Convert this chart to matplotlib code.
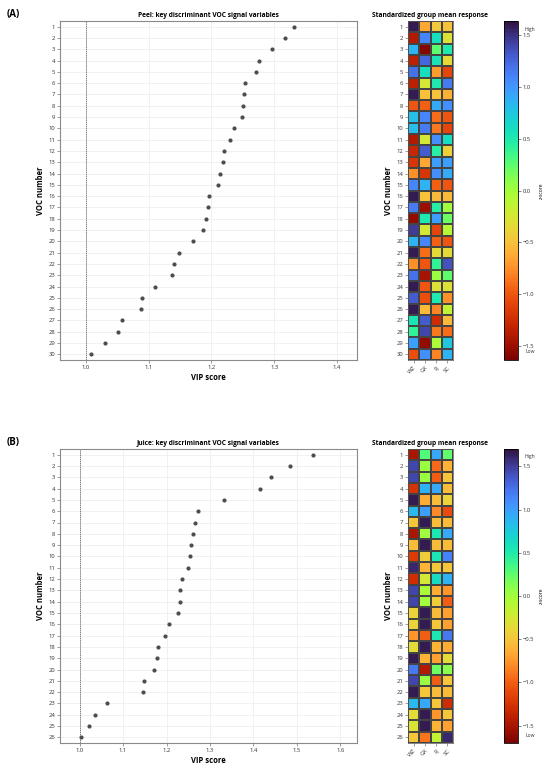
import numpy as np
import matplotlib
matplotlib.use("Agg")
import matplotlib.pyplot as plt

plt.rcParams['font.family'] = ['Open Sans', 'DejaVu Sans']

groups = ["WZ", "GX", "FJ", "SC"]

# peel panel
peel_vip = [1.331, 1.317, 1.297, 1.275, 1.271, 1.254, 1.252, 1.250, 1.249, 1.236,
            1.230, 1.220, 1.218, 1.214, 1.210, 1.196, 1.195, 1.191, 1.186, 1.170,
            1.149, 1.141, 1.137, 1.110, 1.090, 1.088, 1.058, 1.051, 1.030, 1.008]
peel_z = [
    [1.60, -0.65, -0.45, -0.50],
    [-1.40, 1.10, 0.60, -0.30],
    [0.85, -1.60, 0.25, 0.50],
    [-1.35, 1.25, 0.55, -0.35],
    [1.20, 0.60, -0.70, -1.10],
    [-1.35, -0.25, 0.50, 1.15],
    [1.60, -0.50, -0.50, -0.60],
    [-1.00, -0.95, 0.90, 1.05],
    [0.80, 1.10, -0.90, -1.00],
    [0.80, 1.15, -0.85, -1.10],
    [-1.40, -0.25, 1.05, 0.60],
    [-1.30, 1.30, 0.45, -0.40],
    [-1.20, -0.65, 0.95, 0.95],
    [-0.75, -1.20, 1.05, 0.90],
    [1.10, 0.85, -0.95, -1.00],
    [1.60, -0.50, -0.55, -0.55],
    [1.15, -1.50, 0.45, 0.00],
    [-1.55, 0.50, 0.95, 0.20],
    [1.45, -0.25, -1.10, -0.10],
    [0.85, 1.10, -0.95, -1.00],
    [1.60, -0.90, -0.35, -0.35],
    [-0.75, -1.00, 0.40, 1.35],
    [1.20, -1.45, 0.05, 0.25],
    [1.60, -1.00, -0.30, -0.30],
    [1.30, -1.05, 0.50, -0.75],
    [1.60, -0.55, -0.80, -0.15],
    [0.55, 1.30, -1.25, -0.55],
    [0.40, 1.40, -0.85, -0.90],
    [0.95, -1.55, -0.05, 0.75],
    [-1.05, 1.05, -0.80, 0.85],
]

# juice panel
juice_vip = [1.538, 1.483, 1.441, 1.416, 1.333, 1.272, 1.266, 1.262, 1.256, 1.255,
             1.250, 1.236, 1.232, 1.230, 1.227, 1.206, 1.197, 1.180, 1.177, 1.171,
             1.149, 1.145, 1.064, 1.035, 1.021, 1.004]
juice_z = [
    [-1.50, 0.30, 0.95, 0.25],
    [1.45, 0.05, -0.95, -0.60],
    [1.45, 0.05, -1.00, -0.50],
    [-1.25, 0.90, 0.95, -0.55],
    [1.65, -0.65, -0.55, -0.40],
    [0.85, 1.00, -0.80, -1.10],
    [-0.50, 1.65, -0.55, -0.55],
    [-1.50, 0.00, 0.55, 0.95],
    [-0.55, 1.65, -0.55, -0.55],
    [-1.20, -0.45, 0.55, 1.15],
    [1.60, -0.60, -0.50, -0.50],
    [-1.30, -0.25, 0.65, 0.90],
    [1.45, -0.05, -0.65, -0.75],
    [1.45, 0.00, -0.45, -1.00],
    [-0.40, 1.65, -0.55, -0.70],
    [-0.40, 1.65, -0.50, -0.70],
    [-0.75, -1.00, 0.55, 1.20],
    [-0.35, 1.65, -0.60, -0.65],
    [1.65, -0.60, -0.70, -0.35],
    [1.20, -1.45, 0.20, 0.10],
    [1.45, 0.05, -1.00, -0.50],
    [1.65, -0.50, -0.55, -0.55],
    [0.85, 0.95, -0.50, -1.30],
    [-0.35, 1.65, -0.75, -0.50],
    [-0.30, 1.65, -0.60, -0.70],
    [-0.50, -0.90, -0.15, 1.60],
]

W, H = 550, 769
fig = plt.figure(figsize=(W / 100, H / 100), dpi=100)


def rect(l, t, r, b):
    return [l / W, 1 - b / H, (r - l) / W, (b - t) / H]


fs = 4.2
spine_col = '#8a8a8a'


def vip_panel(top, bottom, vip, xlim, xticks, title, tag, z, zlim):
    n = len(vip)
    ax = fig.add_axes(rect(60, top, 356.5, bottom))
    ax.scatter(vip, np.arange(1, n + 1), s=9, color='#4d4d4d', zorder=3, linewidths=0)
    ax.axvline(1.0, color='#555555', ls='--', lw=0.5, dashes=(2, 1), zorder=2)
    ax.set_xlim(*xlim)
    ax.set_ylim(n + 0.5, 0.5)
    ax.set_yticks(np.arange(1, n + 1))
    ax.set_xticks(xticks)
    ax.set_xticklabels([f"{v:.1f}" for v in xticks])
    ax.grid(True, color='#ececec', lw=0.5)
    ax.set_axisbelow(True)
    ax.tick_params(labelsize=fs, length=2, width=0.5, color='#777777',
                   labelcolor='#333333', pad=1.5)
    for s in ax.spines.values():
        s.set_color(spine_col)
        s.set_linewidth(0.8)
    ax.set_xlabel("VIP score", fontsize=5.5, fontweight='bold', labelpad=2)
    ax.set_ylabel("VOC number", fontsize=5.5, fontweight='bold', labelpad=2)
    ax.set_title(title, fontsize=4.8, fontweight='bold', pad=3)
    fig.text(7 / W, 1 - (top - 7) / H, tag, fontsize=7, fontweight='bold',
             ha='left', va='center')

    # heatmap
    hax = fig.add_axes(rect(408, top, 453, bottom))
    zz = np.array(z)
    mesh = hax.pcolormesh(np.arange(0.5, len(groups) + 1), np.arange(0.5, n + 1), zz,
                          cmap='turbo_r', vmin=-zlim, vmax=zlim,
                          edgecolors='#444444', linewidth=0.3)
    hax.set_ylim(n + 0.5, 0.5)
    hax.set_xlim(0.5, len(groups) + 0.5)
    hax.set_yticks(np.arange(1, n + 1))
    hax.set_xticks(np.arange(1, len(groups) + 1))
    hax.set_xticklabels(groups, rotation=45, ha='right', rotation_mode='anchor')
    hax.tick_params(labelsize=fs, length=2, width=0.5, color='#777777',
                    labelcolor='#333333', pad=1.5)
    for s in hax.spines.values():
        s.set_linewidth(0.5)
        s.set_color('#555555')
    hax.set_ylabel("VOC number", fontsize=5.5, fontweight='bold', labelpad=2)
    hax.set_title("Standardized group mean response", fontsize=4.8,
                  fontweight='bold', pad=3)

    cax = fig.add_axes(rect(504, top, 518, bottom))
    cb = fig.colorbar(mesh, cax=cax)
    cb.set_ticks([-1.5, -1.0, -0.5, 0.0, 0.5, 1.0, 1.5])
    cb.ax.tick_params(labelsize=fs, length=2, width=0.5, color='#555555',
                      labelcolor='#333333', pad=1.5)
    cb.outline.set_linewidth(0.6)
    cb.set_label("z-score", fontsize=3.6, labelpad=3)
    cax.text(1.85, 0.975, "High", transform=cax.transAxes, fontsize=3.6,
             ha='center', va='center', color='#333333')
    cax.text(1.85, 0.025, "Low", transform=cax.transAxes, fontsize=3.6,
             ha='center', va='center', color='#333333')


vip_panel(21, 360, peel_vip, (0.959, 1.431), [1.0, 1.1, 1.2, 1.3, 1.4],
          "Peel: key discriminant VOC signal variables", "(A)", peel_z, 1.64)
vip_panel(449, 743, juice_vip, (0.955, 1.637), [1.0, 1.1, 1.2, 1.3, 1.4, 1.5, 1.6],
          "Juice: key discriminant VOC signal variables", "(B)", juice_z, 1.70)

fig.savefig("out.png", dpi=100)
